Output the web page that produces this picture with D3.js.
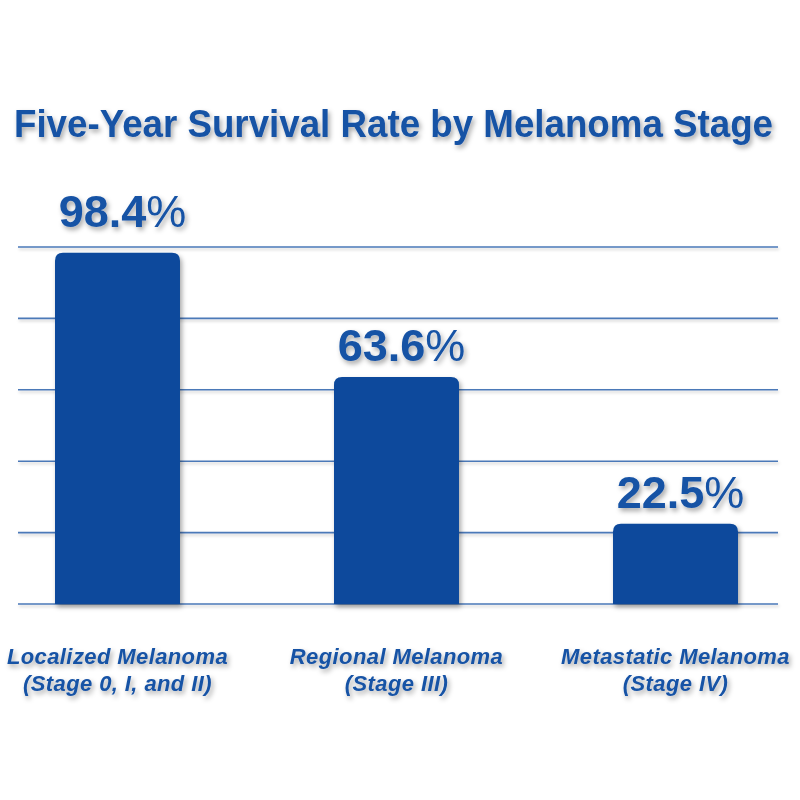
<!DOCTYPE html>
<html>
<head>
<meta charset="utf-8">
<script src="https://cdn.jsdelivr.net/npm/d3@7"></script>
<style>
  html, body { margin: 0; padding: 0; background: #fff; }
  svg { display: block; font-family: "Liberation Sans", Arial, Helvetica, sans-serif; }
</style>
</head>
<body>
<div class="chart"></div>
<script>
const title = "Five-Year Survival Rate by Melanoma Stage";
const stages = ["Localized Melanoma", "Regional Melanoma", "Metastatic Melanoma"];
const stageNotes = ["(Stage 0, I, and II)", "(Stage III)", "(Stage IV)"];
const survival = [98.4, 63.6, 22.5];
const gridTicks = [0, 20, 40, 60, 80, 100];

const width = 800, height = 800;
const barColor = "#0b4a9c";
const textColor = "#1652a5";

const svg = d3.select(".chart").append("svg")
  .attr("width", width)
  .attr("height", height);

const defs = svg.append("defs");
defs.append("filter").attr("id", "shadow")
  .attr("x", "-20%").attr("y", "-20%").attr("width", "140%").attr("height", "160%")
  .append("feDropShadow")
  .attr("dx", 2).attr("dy", 3).attr("stdDeviation", 2.5)
  .attr("flood-color", "#000").attr("flood-opacity", 0.35);
// lines have no height, so the filter region is set in user space
defs.append("filter").attr("id", "lineShadow")
  .attr("filterUnits", "userSpaceOnUse")
  .attr("x", 0).attr("y", 0).attr("width", width).attr("height", height)
  .append("feDropShadow")
  .attr("dx", 1).attr("dy", 2).attr("stdDeviation", 1.5)
  .attr("flood-color", "#000").attr("flood-opacity", 0.2);

const x = d3.scaleBand()
  .domain(stages)
  .range([55, 738])
  .paddingInner(0.552)
  .paddingOuter(0);

const y = d3.scaleLinear()
  .domain([0, 100])
  .range([604, 247]);

// title
svg.append("text")
  .attr("x", 14)
  .attr("y", 137)
  .attr("textLength", 759)
  .attr("lengthAdjust", "spacingAndGlyphs")
  .attr("font-size", 38)
  .attr("font-weight", "bold")
  .attr("fill", textColor)
  .attr("filter", "url(#shadow)")
  .text(title);

// gridlines
svg.append("g")
  .selectAll("line")
  .data(gridTicks)
  .join("line")
  .attr("x1", 18)
  .attr("x2", 778)
  .attr("y1", d => y(d))
  .attr("y2", d => y(d))
  .attr("stroke", "#4b79b8")
  .attr("stroke-width", 1.6)
  .attr("filter", "url(#lineShadow)");

// bars with rounded top corners
const r = 8;
function barPath(d, i) {
  const x0 = x(stages[i]), w = x.bandwidth();
  const top = y(d), bottom = y(0);
  return `M${x0},${bottom}V${top + r}Q${x0},${top} ${x0 + r},${top}` +
    `H${x0 + w - r}Q${x0 + w},${top} ${x0 + w},${top + r}V${bottom}Z`;
}
svg.append("g")
  .selectAll("path")
  .data(survival)
  .join("path")
  .attr("d", barPath)
  .attr("fill", barColor)
  .attr("filter", "url(#shadow)");

// value labels, lifted above the top gridline when the bar is close to it
const labelY = d => (y(d) - y(100) < 40 ? y(100) - 20 : y(d) - 16);
const labels = svg.append("g")
  .selectAll("text")
  .data(survival)
  .join("text")
  .attr("x", (d, i) => x(stages[i]) + x.bandwidth() / 2 + 5)
  .attr("y", labelY)
  .attr("text-anchor", "middle")
  .attr("font-size", 45)
  .attr("font-weight", "bold")
  .attr("fill", textColor)
  .attr("filter", "url(#shadow)");
labels.append("tspan").text(d => d.toFixed(1));
labels.append("tspan").attr("font-weight", "normal").text("%");

// category labels
const cats = svg.append("g")
  .selectAll("text")
  .data(stages)
  .join("text")
  .attr("x", d => x(d) + x.bandwidth() / 2)
  .attr("y", 664)
  .attr("text-anchor", "middle")
  .attr("font-size", 22)
  .attr("font-weight", "bold")
  .attr("font-style", "italic")
  .attr("letter-spacing", 0.4)
  .attr("fill", textColor)
  .attr("filter", "url(#shadow)");
cats.append("tspan").text(d => d);
cats.append("tspan")
  .attr("x", d => x(d) + x.bandwidth() / 2)
  .attr("dy", 27)
  .text((d, i) => stageNotes[i]);
</script>
</body>
</html>
